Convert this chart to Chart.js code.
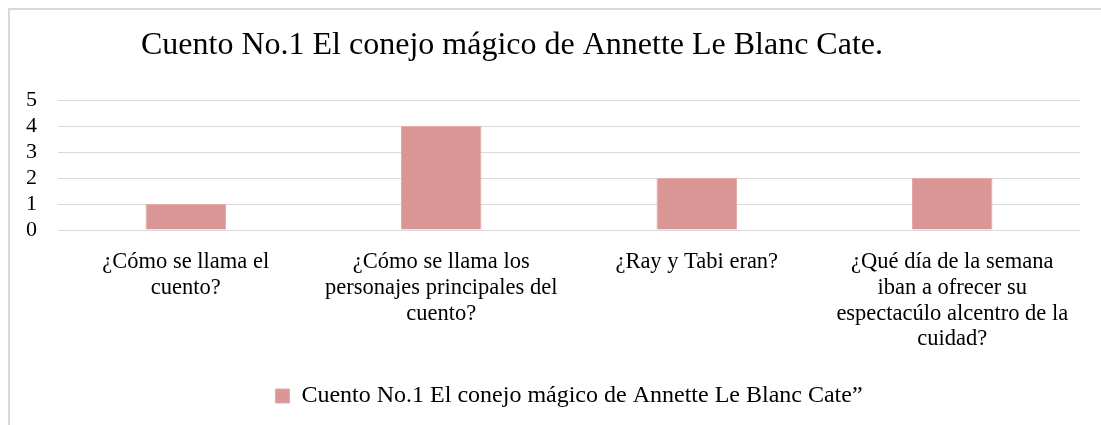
<!DOCTYPE html>
<html>
<head>
<meta charset="utf-8">
<script src="https://cdn.jsdelivr.net/npm/chart.js@4"></script>
<style>
  body { margin: 0; background: #fff; }
  #wrap { position: relative; width: 1101px; height: 425px; }
  #frame { position: absolute; left: 8px; top: 8px; right: 0; bottom: 0;
           border-top: 2px solid #d9d9d9; border-left: 2px solid #d9d9d9; }
  canvas { position: absolute; left: 0; top: 0; }
</style>
</head>
<body>
<div id="wrap">
  <div id="frame"></div>
  <canvas id="myChart" width="1101" height="425"></canvas>
</div>
<script>
const chartTitle = 'Cuento No.1 El conejo mágico de Annette Le Blanc Cate.';
const serieNombre = 'Cuento No.1 El conejo mágico de Annette Le Blanc Cate\u201d';
const categorias = [
    ['¿Cómo se llama el', 'cuento?'],
    ['¿Cómo se llama los', 'personajes principales del', 'cuento?'],
    ['¿Ray y Tabi eran?'],
    ['¿Qué día de la semana', 'iban a ofrecer su', 'espectacúlo alcentro de la', 'cuidad?']
];
const valores = [1, 4, 2, 2];
const ejeY = [0, 1, 2, 3, 4, 5];

const serif = '"Liberation Serif", "Times New Roman", serif';
Chart.defaults.font.family = serif;
Chart.defaults.color = '#000';

// titulo dibujado a mano para poder correrlo a la izquierda como en el original
const tituloPlugin = {
    id: 'tituloPlugin',
    afterDraw(chart) {
        const c = chart.ctx;
        c.save();
        c.font = '32px ' + serif;
        c.fillStyle = '#000';
        c.textAlign = 'center';
        c.textBaseline = 'middle';
        c.fillText(chartTitle, 512, 46);
        c.restore();
    }
};

const ctx = document.getElementById('myChart');
const myChart = new Chart(ctx, {
    type: 'bar',
    data: {
        labels: categorias,
        datasets: [{
            label: serieNombre,
            data: valores,
            backgroundColor: '#d99694',
            borderColor: '#e3aaa8',
            borderWidth: 1,
            barPercentage: 0.315,
            categoryPercentage: 1
        }]
    },
    options: {
        responsive: false,
        animation: false,
        layout: { padding: { left: 24, right: 21, top: 100, bottom: 7 } },
        scales: {
            x: {
                grid: { display: false, drawTicks: false },
                border: { display: false },
                ticks: { font: { size: 22.5, lineHeight: 1.15 }, padding: 19, maxRotation: 0, autoSkip: false },
                afterFit(axis) { axis.height = 144; axis.paddingLeft = 0; axis.paddingRight = 0; }
            },
            y: {
                min: 0,
                max: ejeY[ejeY.length - 1],
                afterBuildTicks(axis) { axis.ticks = ejeY.map(v => ({ value: v })); },
                grid: { color: '#d9d9d9', lineWidth: 1, drawTicks: false },
                border: { display: false },
                ticks: { font: { size: 22 }, padding: 21, autoSkip: false },
                afterFit(axis) { axis.width = 34; }
            }
        },
        plugins: {
            legend: {
                position: 'bottom',
                fullSize: false,
                labels: { boxWidth: 14, boxHeight: 14, font: { size: 24 }, padding: 10 }
            },
            title: { display: false },
            tooltip: { enabled: false }
        }
    },
    plugins: [tituloPlugin]
});
</script>
</body>
</html>
